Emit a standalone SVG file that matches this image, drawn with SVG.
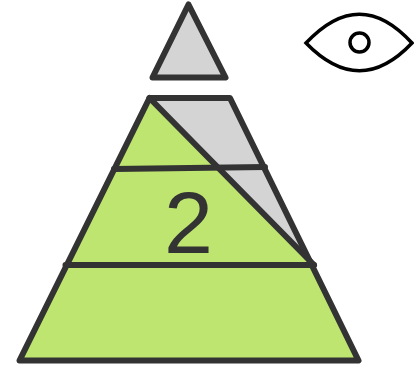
<svg xmlns="http://www.w3.org/2000/svg" width="414" height="369" viewBox="0 0 414 369">
<style>
.o{stroke:#333;stroke-width:6;stroke-linejoin:round;stroke-linecap:round}
.g{fill:#d4d4d4}.l{fill:#bee56f}
.e{fill:none;stroke:#000;stroke-width:3.5}
</style>
<g id="apex"><path class="o g" d="M188.500 4.500L225.500 77.500H152.500Z"/></g>
<g id="pyramid">
<path class="g" d="M149.500 98H230L314 265Z"/>
<path class="l" d="M149.500 98L314 265L358.500 360.500H19.500Z"/>
<path class="o" fill="none" d="M149.500 98H230L358.500 360.500H19.500Z"/>
<path class="o" fill="none" d="M149.500 98L314 265"/>
<path class="o" fill="none" d="M65.500 265H314"/>
<path class="o" fill="none" d="M114 169L265 167"/>
<text x="188.500" y="253" font-family="Liberation Sans, Arial, sans-serif" font-size="88" fill="#333" text-anchor="middle">2</text>
</g>
<g id="eye"><path class="e" d="M306 43C342 4.500 377 4.500 412 43C377 80 342 80 306 43Z"/><circle class="e" cx="359.500" cy="42.500" r="9.500"/></g>
</svg>
